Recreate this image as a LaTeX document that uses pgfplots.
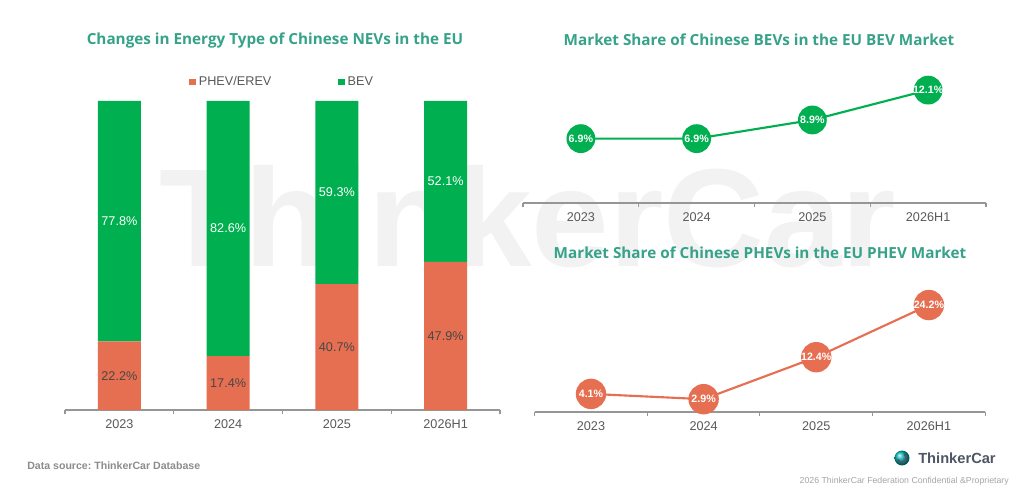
\documentclass[border=0pt]{standalone}
\usepackage{fontspec}
\setmainfont{Liberation Sans}
\newfontfamily\titlefont{Open Sans}
\usepackage{pgfplots}
\pgfplotsset{compat=1.18}
\usetikzlibrary{shadings}
\definecolor{bevgreen}{RGB}{0,176,80}
\definecolor{phevorange}{RGB}{231,111,81}
\definecolor{titleteal}{RGB}{54,162,137}
\definecolor{txtgray}{RGB}{89,89,89}
\definecolor{axgray}{RGB}{150,150,150}
\definecolor{wmgray}{RGB}{242,242,242}
\definecolor{logogray}{RGB}{77,85,102}
\pgfplotsset{
  chartbase/.style={
    scale only axis,
    xmin=-0.5, xmax=3.5, ymin=0,
    axis x line*=bottom, axis y line=none,
    axis line style={-, draw=axgray, line width=0.9pt},
    xtick={0,1,2,3},
    xticklabels={2023,2024,2025,2026H1},
    major tick length=0pt,
    minor xtick={-0.5,0.5,1.5,2.5,3.5},
    minor tick length=3pt,
    tick align=outside,
    minor tick style={draw=axgray, line width=0.8pt},
    xticklabel style={font=\fontsize{9.5}{11}\selectfont, text=txtgray, yshift=-4pt},
    ytick=\empty,
    /pgf/number format/assume math mode=true,
    clip=false,
  }
}
\begin{document}
\begin{tikzpicture}
\fill[white] (0,0) rectangle (768pt,372.75pt);
\path[use as bounding box] (0,0) rectangle (768pt,372.75pt);
% watermark
\node[text=wmgray, inner sep=0pt] at (396pt,210pt) {\resizebox{552pt}{!}{\bfseries ThinkerCar}};
% titles
\node[text=titleteal, font=\titlefont\bfseries\fontsize{11.45}{13}\selectfont] at (206.25pt,342.75pt) {Changes in Energy Type of Chinese NEVs in the EU};
\node[text=titleteal, font=\titlefont\bfseries\fontsize{11.45}{13}\selectfont] at (569.25pt,342.75pt) {Market Share of Chinese BEVs in the EU BEV Market};
\node[text=titleteal, font=\titlefont\bfseries\fontsize{11.45}{13}\selectfont] at (570pt,183pt) {Market Share of Chinese PHEVs in the EU PHEV Market};

% left stacked bars
\begin{axis}[chartbase,
  at={(48.75pt,65.25pt)}, anchor=south west,
  width=326.25pt, height=231.75pt, ymax=100,
  ybar stacked, bar width=32.25pt,
  legend columns=2,
  legend style={draw=none, fill=none, at={(0.5,1.0615)}, anchor=center,
    font=\fontsize{9.5}{11}\selectfont, text=txtgray,
    /tikz/every even column/.append style={column sep=48pt}},
  legend image code/.code={\fill[#1] (0pt,-2.6pt) rectangle (5.25pt,2.6pt);},
]
\addplot[fill=phevorange, draw=none] coordinates {(0,22.2) (1,17.4) (2,40.7) (3,47.9)};
\addlegendentry{PHEV/EREV}
\addplot[fill=bevgreen, draw=none] coordinates {(0,77.8) (1,82.6) (2,59.3) (3,52.1)};
\addlegendentry{BEV}
\end{axis}
% overlay axis for bar labels
\begin{axis}[
  scale only axis, hide axis,
  at={(48.75pt,65.25pt)}, anchor=south west,
  width=326.25pt, height=231.75pt,
  xmin=-0.5, xmax=3.5, ymin=0, ymax=100, clip=false,
]
\addplot[draw=none] coordinates {(0,0)};
\node[text=txtgray!80!black, font=\fontsize{9.5}{11}\selectfont] at (axis cs:0,11.1) {22.2\%};
\node[text=txtgray!80!black, font=\fontsize{9.5}{11}\selectfont] at (axis cs:1,8.7) {17.4\%};
\node[text=txtgray!80!black, font=\fontsize{9.5}{11}\selectfont] at (axis cs:2,20.35) {40.7\%};
\node[text=txtgray!80!black, font=\fontsize{9.5}{11}\selectfont] at (axis cs:3,23.95) {47.9\%};
\node[text=white, font=\fontsize{9.5}{11}\selectfont] at (axis cs:0,61.1) {77.8\%};
\node[text=white, font=\fontsize{9.5}{11}\selectfont] at (axis cs:1,58.7) {82.6\%};
\node[text=white, font=\fontsize{9.5}{11}\selectfont] at (axis cs:2,70.35) {59.3\%};
\node[text=white, font=\fontsize{9.5}{11}\selectfont] at (axis cs:3,73.95) {52.1\%};
\end{axis}

% top right line
\begin{axis}[chartbase,
  at={(392.25pt,220.5pt)}, anchor=south west,
  width=347.25pt, height=97.97pt, ymax=14,
  nodes near coords={\pgfmathprintnumber[fixed,precision=1,fixed zerofill]{\pgfplotspointmeta}\%},
  every node near coord/.append style={anchor=center, text=white, font=\bfseries\fontsize{8}{9}\selectfont},
]
\addplot[bevgreen, line width=1.6pt, mark=*, mark size=10pt,
  mark options={fill=bevgreen, draw=none}, point meta=y]
  coordinates {(0,6.9) (1,6.9) (2,8.9) (3,12.1)};
\end{axis}

% bottom right line
\begin{axis}[chartbase,
  at={(401pt,63.75pt)}, anchor=south west,
  width=337.9pt, height=92.8pt, ymax=28,
  nodes near coords={\pgfmathprintnumber[fixed,precision=1,fixed zerofill]{\pgfplotspointmeta}\%},
  every node near coord/.append style={anchor=center, text=white, font=\bfseries\fontsize{8}{9}\selectfont},
]
\addplot[phevorange, line width=1.6pt, mark=*, mark size=10.6pt,
  mark options={fill=phevorange, draw=none}, point meta=y]
  coordinates {(0,4.1) (1,2.9) (2,12.4) (3,24.2)};
\end{axis}

% footer
\node[anchor=west, text=gray!90, font=\bfseries, inner sep=0pt] at (20.25pt,23.25pt) {\resizebox{129.75pt}{!}{Data source:\ ThinkerCar Database}};
\shade[ball color=teal!60!cyan] (676.5pt,29.25pt) circle (5.6pt);
\draw[logogray, line width=1.3pt] (676.5pt,29.25pt) ++(200:3.3pt) arc (200:420:3.3pt);
\node[anchor=west, text=logogray, font=\bfseries\fontsize{11}{13}\selectfont, inner sep=0pt] at (688.5pt,29.25pt) {ThinkerCar};
\node[anchor=east, text=gray!70, inner sep=0pt] at (756.75pt,12pt) {\resizebox{156.75pt}{!}{2026 ThinkerCar Federation Confidential \&Proprietary}};
\end{tikzpicture}
\end{document}
